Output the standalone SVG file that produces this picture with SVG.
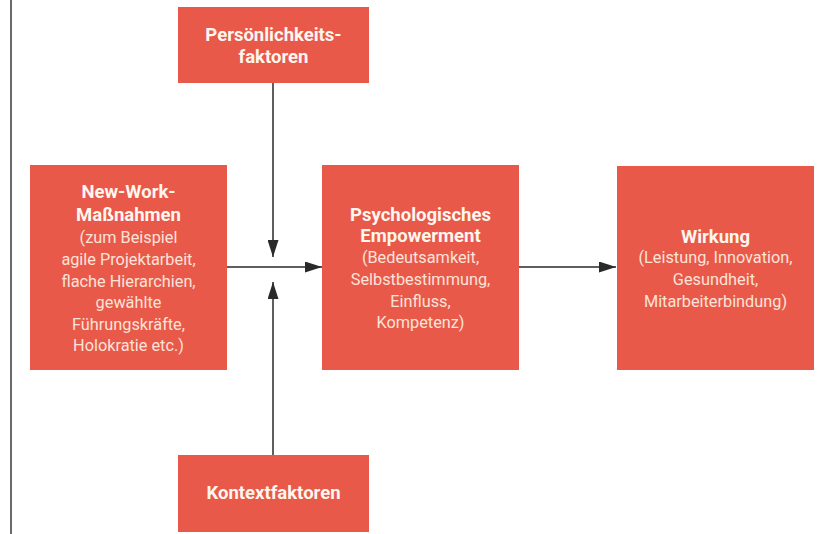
<svg xmlns="http://www.w3.org/2000/svg" width="829" height="534" viewBox="0 0 829 534">
<style>
.box{fill:#E8594A}
.t{font-family:Roboto,"Liberation Sans",sans-serif;font-weight:bold;font-size:18.5px;fill:#FFF6EE;text-anchor:middle}
.b{font-family:Roboto,"Liberation Sans",sans-serif;font-size:16.3px;fill:#FCE3D8;text-anchor:middle}
.c{stroke:#2a2a2a;stroke-width:1.5;fill:none}
</style>
<defs>
<marker id="ah" viewBox="0 0 17 11" refX="17" refY="5.5" markerWidth="17" markerHeight="11" markerUnits="userSpaceOnUse" orient="auto">
<path d="M0,0 L17,5.5 L0,11 Z" fill="#2a2a2a"/>
</marker>
</defs>
<rect width="829" height="534" fill="#ffffff"/>
<line x1="11" y1="0" x2="11" y2="534" stroke="#6a6a6a" stroke-width="2"/>
<g id="connectors">
<line class="c" x1="273" y1="83" x2="273" y2="257" marker-end="url(#ah)"/>
<line class="c" x1="273" y1="455" x2="273" y2="282" marker-end="url(#ah)"/>
<line class="c" x1="227" y1="267" x2="322" y2="267" marker-end="url(#ah)"/>
<line class="c" x1="519" y1="267" x2="616" y2="267" marker-end="url(#ah)"/>
</g>
<g id="persoenlichkeit">
<rect class="box" x="178" y="7" width="191" height="76"/>
<text class="t" x="273.5" y="41">Persönlichkeits-</text>
<text class="t" x="273.5" y="63">faktoren</text>
</g>
<g id="newwork">
<rect class="box" x="30" y="165" width="197" height="205"/>
<text class="t" x="128.5" y="198">New-Work-</text>
<text class="t" x="128.5" y="221">Maßnahmen</text>
<text class="b" x="128.5" y="243">(zum Beispiel</text>
<text class="b" x="128.5" y="265">agile Projektarbeit,</text>
<text class="b" x="128.5" y="287">flache Hierarchien,</text>
<text class="b" x="128.5" y="308">gewählte</text>
<text class="b" x="128.5" y="330">Führungskräfte,</text>
<text class="b" x="128.5" y="351">Holokratie etc.)</text>
</g>
<g id="empowerment">
<rect class="box" x="322" y="165" width="197" height="205"/>
<text class="t" x="420.5" y="221">Psychologisches</text>
<text class="t" x="420.5" y="242">Empowerment</text>
<text class="b" x="420.5" y="263">(Bedeutsamkeit,</text>
<text class="b" x="420.5" y="285">Selbstbestimmung,</text>
<text class="b" x="420.5" y="307">Einfluss,</text>
<text class="b" x="420.5" y="328">Kompetenz)</text>
</g>
<g id="wirkung">
<rect class="box" x="617" y="166" width="197" height="204"/>
<text class="t" x="715.5" y="243">Wirkung</text>
<text class="b" x="715.5" y="263">(Leistung, Innovation,</text>
<text class="b" x="715.5" y="285">Gesundheit,</text>
<text class="b" x="715.5" y="307">Mitarbeiterbindung)</text>
</g>
<g id="kontext">
<rect class="box" x="178" y="455" width="191" height="77"/>
<text class="t" x="273.5" y="499">Kontextfaktoren</text>
</g>
</svg>
